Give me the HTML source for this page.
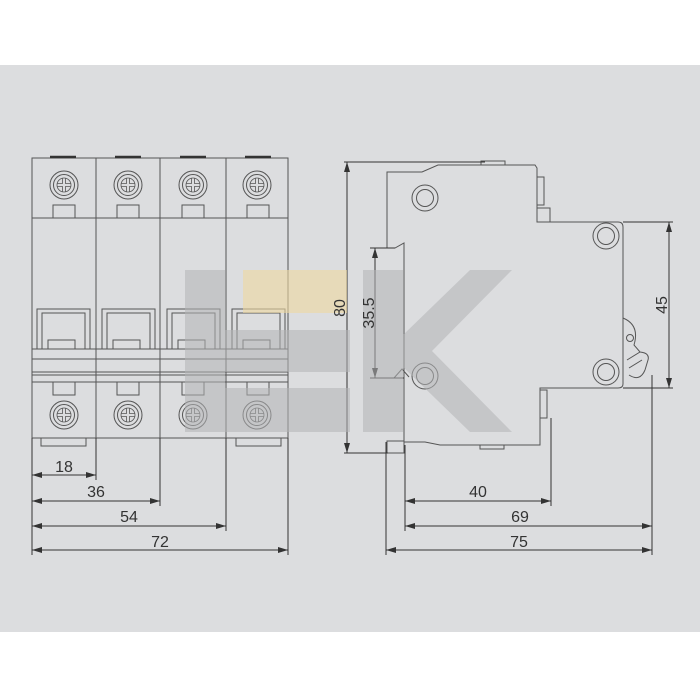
<!DOCTYPE html>
<html><head><style>body{margin:0;background:#fff}svg{display:block}</style></head>
<body>
<svg width="700" height="700" viewBox="0 0 700 700" xmlns="http://www.w3.org/2000/svg" font-family="Liberation Sans, sans-serif">
<defs>
<marker id="a" viewBox="0 0 10 6" refX="10" refY="3" markerWidth="10" markerHeight="6" orient="auto-start-reverse" markerUnits="userSpaceOnUse"><path d="M0,0L10,3L0,6z" fill="#333"/></marker>
<g id="scr"><circle r="14" fill="none" stroke="#555" stroke-width="1"/><circle r="10.5" fill="none" stroke="#555" stroke-width="1"/><circle r="7" fill="none" stroke="#555" stroke-width="0.8"/><path d="M-1.5,-7V-1.5H-7M1.5,-7V-1.5H7M-1.5,7V1.5H-7M1.5,7V1.5H7" fill="none" stroke="#555" stroke-width="0.8"/></g>
<g id="ring"><circle r="13" fill="none" stroke="#555" stroke-width="1"/><circle r="8.5" fill="none" stroke="#555" stroke-width="1"/></g>
</defs>
<rect x="0" y="65" width="700" height="567" fill="#dcdddf"/>
<g fill="none" stroke="#555" stroke-width="1">
<rect x="32" y="158" width="256" height="280"/>
<line x1="96" y1="158" x2="96" y2="438"/><line x1="160" y1="158" x2="160" y2="438"/><line x1="226" y1="158" x2="226" y2="438"/>
<line x1="32" y1="218" x2="288" y2="218"/>
<line x1="32" y1="349" x2="288" y2="349"/><line x1="32" y1="359" x2="288" y2="359"/><line x1="32" y1="372" x2="288" y2="372"/><line x1="32" y1="375" x2="288" y2="375"/><line x1="32" y1="382" x2="288" y2="382"/>
</g>
<g stroke="#333" stroke-width="2.5"><line x1="50" y1="157" x2="76" y2="157"/><line x1="115" y1="157" x2="141" y2="157"/><line x1="180" y1="157" x2="206" y2="157"/><line x1="245" y1="157" x2="271" y2="157"/></g>
<g fill="none" stroke="#555" stroke-width="1">
<rect x="53" y="205" width="22" height="13"/><rect x="117" y="205" width="22" height="13"/><rect x="182" y="205" width="22" height="13"/><rect x="247" y="205" width="22" height="13"/>
<rect x="53" y="382" width="22" height="13"/><rect x="117" y="382" width="22" height="13"/><rect x="182" y="382" width="22" height="13"/><rect x="247" y="382" width="22" height="13"/>
<rect x="41" y="438" width="45" height="8"/><rect x="236" y="438" width="45" height="8"/>
<g id="h"><path d="M37,349V309H90V349M42,349V313H85V349M48,349V340H75V349"/></g>
<use href="#h" x="65"/><use href="#h" x="130"/><use href="#h" x="195"/>
</g>
<use href="#scr" x="64" y="185"/><use href="#scr" x="128" y="185"/><use href="#scr" x="193" y="185"/><use href="#scr" x="257" y="185"/>
<use href="#scr" x="64" y="415"/><use href="#scr" x="128" y="415"/><use href="#scr" x="193" y="415"/><use href="#scr" x="257" y="415"/>
<g stroke="#333" stroke-width="1" fill="none">
<line x1="32" y1="438" x2="32" y2="555"/><line x1="96" y1="438" x2="96" y2="480"/><line x1="160" y1="438" x2="160" y2="506"/><line x1="226" y1="438" x2="226" y2="531"/><line x1="288" y1="438" x2="288" y2="555"/>
<line x1="32" y1="475" x2="96" y2="475" marker-start="url(#a)" marker-end="url(#a)"/>
<line x1="32" y1="501" x2="160" y2="501" marker-start="url(#a)" marker-end="url(#a)"/>
<line x1="32" y1="526" x2="226" y2="526" marker-start="url(#a)" marker-end="url(#a)"/>
<line x1="32" y1="550" x2="288" y2="550" marker-start="url(#a)" marker-end="url(#a)"/>
</g>
<g fill="none" stroke="#555" stroke-width="1">
<path d="M387,248V172H422L438,165H535L537,168V222H618Q623,222 623,227V384Q623,388 618,388H540V445H440L425,442H404V243L395,248Z"/>
<rect x="481" y="161" width="24" height="4"/>
<rect x="537" y="177" width="7" height="28"/><rect x="537" y="208" width="13" height="14"/>
<rect x="540" y="390" width="7" height="28"/>
<rect x="480" y="445" width="24" height="4"/>
<rect x="387" y="441" width="17" height="12"/>
<path d="M394,378L402,369L409,377"/>
<path d="M623,318Q640,325 634,345L640,352Q650,353 648,360L645,370"/>
<circle cx="630" cy="338" r="3.5"/>
<path d="M627,360L640,352M629,368L642,360M629,375Q640,382 645,370"/>
</g>
<use href="#ring" x="425" y="198"/><use href="#ring" x="606" y="236"/><use href="#ring" x="606" y="372"/><use href="#ring" x="425" y="376"/>
<g stroke="#333" stroke-width="1" fill="none">
<line x1="344" y1="162" x2="485" y2="162"/><line x1="344" y1="453" x2="388" y2="453"/>
<line x1="347" y1="162" x2="347" y2="453" marker-start="url(#a)" marker-end="url(#a)"/>
<line x1="370" y1="248" x2="395" y2="248"/><line x1="370" y1="378" x2="404" y2="378"/>
<line x1="375" y1="248" x2="375" y2="378" marker-start="url(#a)" marker-end="url(#a)"/>
<line x1="623" y1="222" x2="673" y2="222"/><line x1="623" y1="388" x2="673" y2="388"/>
<line x1="669" y1="222" x2="669" y2="388" marker-start="url(#a)" marker-end="url(#a)"/>
<line x1="386" y1="442" x2="386" y2="555"/><line x1="405" y1="445" x2="405" y2="531"/><line x1="551" y1="418" x2="551" y2="506"/><line x1="652" y1="375" x2="652" y2="555"/>
<line x1="405" y1="501" x2="551" y2="501" marker-start="url(#a)" marker-end="url(#a)"/>
<line x1="405" y1="526" x2="652" y2="526" marker-start="url(#a)" marker-end="url(#a)"/>
<line x1="386" y1="550" x2="652" y2="550" marker-start="url(#a)" marker-end="url(#a)"/>
</g>
<!-- watermark on top, translucent -->
<g fill="#b4b5b7" opacity="0.55">
<rect x="185" y="270" width="40" height="162"/>
<rect x="225" y="330" width="125" height="42"/>
<rect x="225" y="388" width="125" height="44"/>
<rect x="363" y="270" width="40" height="162"/>
<polygon points="403,335 470,270 512,270 432,351 512,432 470,432 403,367"/>
</g>
<rect x="243" y="270" width="104" height="43" fill="#eed9a0" opacity="0.6"/>
<g font-size="16" fill="#333" text-anchor="middle">
<text x="64" y="472">18</text><text x="96" y="497">36</text><text x="129" y="522">54</text><text x="160" y="547">72</text>
<text x="478" y="497">40</text><text x="520" y="522">69</text><text x="519" y="547">75</text>
<text transform="translate(345,308) rotate(-90)">80</text>
<text transform="translate(374,313) rotate(-90)">35.5</text>
<text transform="translate(667,305) rotate(-90)">45</text>
</g>
</svg>
</body></html>
